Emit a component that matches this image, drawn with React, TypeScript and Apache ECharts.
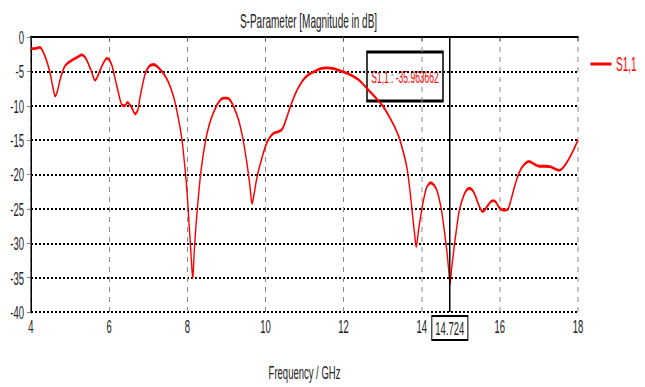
import React, { useEffect, useRef } from "react";
import * as echarts from "echarts";

const title = "S-Parameter [Magnitude in dB]";
const xName = "Frequency / GHz";
const seriesName = "S1,1";
const markerFreq = 14.724;
const markerValue = -35.963662;

const xTicks = { min: 4, max: 18, interval: 2 };
const yTicks = { min: -40, max: 0, interval: 5 };

const freqs: number[] = [
  4.0, 4.1, 4.23, 4.32, 4.42, 4.49, 4.56, 4.62, 4.68, 4.74, 4.87, 5.04, 5.2, 5.3, 5.38, 5.43,
  5.54, 5.64, 5.7, 5.77, 5.86, 5.94, 6.0, 6.07, 6.2, 6.33, 6.4, 6.47, 6.57, 6.67, 6.74, 6.79,
  6.92, 7.02, 7.14, 7.27, 7.39, 7.52, 7.65, 7.76, 7.86, 7.94, 7.99, 8.05, 8.1, 8.14, 8.18, 8.25,
  8.35, 8.46, 8.56, 8.67, 8.8, 8.93, 9.02, 9.1, 9.2, 9.32, 9.43, 9.53, 9.6, 9.66, 9.72, 9.79,
  9.9, 10.0, 10.1, 10.21, 10.32, 10.43, 10.54, 10.64, 10.77, 10.9, 11.02, 11.15, 11.3, 11.41,
  11.55, 11.75, 11.95, 12.18, 12.4, 12.6, 12.85, 13.0, 13.12, 13.3, 13.42, 13.55, 13.63, 13.7,
  13.76, 13.82, 13.86, 13.92, 14.02, 14.12, 14.23, 14.32, 14.4, 14.5, 14.57, 14.65, 14.7,
  14.724, 14.76, 14.82, 14.87, 14.96, 15.08, 15.21, 15.3, 15.38, 15.47, 15.56, 15.62, 15.68,
  15.78, 15.85, 15.92, 15.98, 16.1, 16.2, 16.28, 16.37, 16.45, 16.54, 16.65, 16.75, 16.88,
  17.01, 17.15, 17.31, 17.42, 17.52, 17.62, 17.74, 17.87, 18.0,
];

const s11: number[] = [
  -1.7, -1.7, -1.5, -2.3, -3.8, -5.3, -7.3, -8.6, -7.8, -6.3, -4.2, -3.4, -2.9, -2.6, -2.9, -3.4,
  -4.9, -6.3, -5.8, -4.8, -3.7, -3.1, -3.3, -4.1, -7.2, -9.9, -10.0, -9.5, -10.2, -11.2, -10.5, -8.8,
  -5.4, -4.3, -4.0, -4.5, -5.3, -6.6, -8.7, -11.5, -14.8, -19.0, -22.3, -27.5, -32.0, -35.0, -31.0, -25.5,
  -19.5, -15.3, -12.8, -11.0, -9.5, -8.9, -8.9, -9.2, -10.3, -12.2, -15.0, -18.5, -21.5, -24.2, -22.5, -20.2,
  -17.8, -15.9, -14.7, -14.0, -13.8, -13.4, -11.8, -10.1, -8.2, -6.8, -5.9, -5.3, -4.9, -4.6,
  -4.5, -4.6, -5.0, -5.5, -6.3, -7.5, -9.0, -10.0, -11.1, -13.0, -14.6, -17.2, -19.3, -22.4,
  -25.6, -28.8, -30.5, -28.0, -24.5, -22.0, -21.2, -21.6, -22.5, -25.0, -27.8, -31.5, -34.5,
  -35.96, -34.0, -31.0, -28.8, -25.3, -23.0, -22.0, -22.3, -23.2, -24.6, -25.4, -25.1, -24.6,
  -23.9, -23.8, -24.2, -24.8, -25.2, -25.1, -23.8, -21.9, -20.4, -19.2, -18.4, -18.1, -18.5,
  -18.8, -18.8, -18.9, -19.2, -19.4, -19.0, -18.0, -16.6, -15.0,
];

const FONT = "'Liberation Sans', Arial, sans-serif";
// The reference picture is horizontally squeezed; the chart is drawn twice as wide and compressed.
const SQUEEZE = 0.5;
const W = 645 / SQUEEZE;
const H = 387;
const TEXT = "#222222";

export default function App() {
  const ref = useRef<HTMLDivElement>(null);
  useEffect(() => {
    document.body.style.margin = "0";
    if (!ref.current) return;
    const chart = echarts.init(ref.current, undefined, { renderer: "svg" });
    const data = freqs.map((f, i) => [f, s11[i]]);
    chart.setOption({
      animation: false,
      backgroundColor: "#ffffff",
      textStyle: { fontFamily: FONT },
      title: {
        text: title,
        left: 612,
        textAlign: "center",
        top: 6,
        textStyle: { fontFamily: FONT, fontSize: 20, fontWeight: "normal", color: TEXT },
      },
      legend: {
        data: [seriesName],
        left: 1176,
        top: 49,
        icon: "rect",
        itemWidth: 42,
        itemHeight: 3,
        itemGap: 4,
        textStyle: { fontFamily: FONT, fontSize: 20, color: "#ff0000", padding: [0, 0, 0, 4] },
      },
      grid: { left: 62, right: 134, top: 37, bottom: 74 },
      xAxis: [
        {
          type: "value",
          min: xTicks.min,
          max: xTicks.max,
          interval: xTicks.interval,
          name: xName,
          nameLocation: "middle",
          nameGap: 51,
          nameTextStyle: { fontFamily: FONT, fontSize: 19, color: TEXT },
          axisLine: { show: true, lineStyle: { color: "#000000", width: 2 } },
          axisTick: { show: true, length: 4, lineStyle: { color: "#555555", width: 2 } },
          axisLabel: { fontFamily: FONT, fontSize: 19, color: TEXT, margin: 5 },
          splitLine: { show: true, lineStyle: { color: "#8a8a8a", type: [5, 5], width: 2 } },
        },
        {
          type: "value",
          position: "top",
          min: xTicks.min,
          max: xTicks.max,
          interval: xTicks.interval,
          axisLine: { show: true, lineStyle: { color: "#000000", width: 2 } },
          axisTick: { show: false },
          axisLabel: { show: false },
          splitLine: { show: false },
        },
      ],
      yAxis: {
        type: "value",
        min: yTicks.min,
        max: yTicks.max,
        interval: yTicks.interval,
        axisLine: { show: true, lineStyle: { color: "#000000", width: 3 } },
        axisTick: { show: true, length: 8, lineStyle: { color: "#555555", width: 1 } },
        axisLabel: { fontFamily: FONT, fontSize: 19, color: TEXT, margin: 14 },
        splitLine: { show: true, lineStyle: { color: "#000000", type: [4, 4], width: 2 } },
      },
      series: [
        {
          name: seriesName,
          type: "line",
          data,
          smooth: 0.3,
          symbol: "none",
          lineStyle: { color: "#ff0000", width: 2.8 },
          itemStyle: { color: "#ff0000" },
          markLine: {
            silent: true,
            symbol: "none",
            lineStyle: { color: "#000000", width: 3, type: "solid" },
            label: {
              show: true,
              position: "start",
              formatter: String(markerFreq),
              fontFamily: FONT,
              fontSize: 19,
              color: TEXT,
              borderColor: "#000000",
              borderWidth: 2,
              padding: [2, 6, 1, 6],
              backgroundColor: "#ffffff",
              distance: 5,
            },
            data: [{ xAxis: markerFreq }],
          },
        },
      ],
      graphic: [
        {
          type: "group",
          x: 734,
          y: 52,
          children: [
            {
              type: "rect",
              shape: { x: 0, y: 0, width: 152, height: 49 },
              style: { fill: "#ffffff", stroke: "#000000", lineWidth: 3 },
            },
            {
              type: "text",
              x: 76,
              y: 25,
              style: {
                text: `${seriesName} : ${markerValue}`,
                fill: "#ff0000",
                fontFamily: FONT,
                fontSize: 17,
                align: "center",
                verticalAlign: "middle",
              },
            },
          ],
        },
      ],
    });
    return () => chart.dispose();
  }, []);
  return (
    <div style={{ width: 645, height: H, overflow: "hidden" }}>
      <div
        ref={ref}
        style={{ width: W, height: H, transform: `scaleX(${SQUEEZE})`, transformOrigin: "0 0" }}
      />
    </div>
  );
}
